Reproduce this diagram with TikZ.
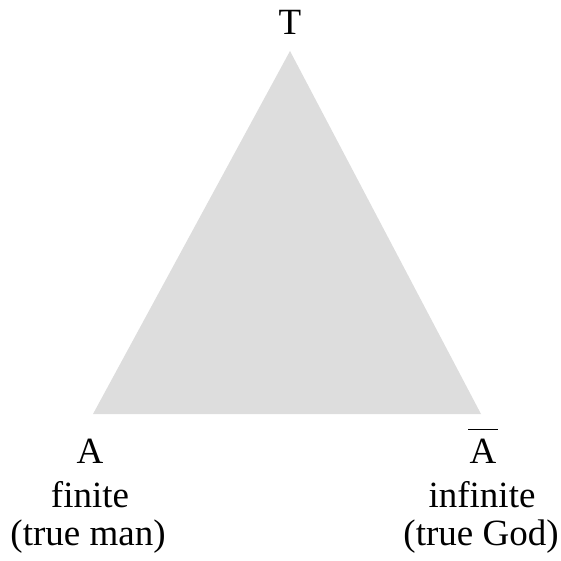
\documentclass[tikz,border=0pt]{standalone}
\usepackage{fontspec}
\setmainfont{Liberation Serif}
\usetikzlibrary{positioning}
\definecolor{facegray}{RGB}{221,221,221}

\begin{document}
\begin{tikzpicture}[
    x=1pt, y=-1pt,
    vlabel/.style={font=\fontsize{37}{42}\selectfont, inner sep=0pt, anchor=base},
    face/.style={fill=facegray, draw=none}
]
\useasboundingbox (0,0) rectangle (561,561);

% --- VERTICES ---
\coordinate (top) at (290,51);
\coordinate (left) at (93,414);
\coordinate (right) at (481,414);

% --- TRIANGLE ---
\fill [face] (top) -- (left) -- (right) -- cycle;

% --- LABELS ---
\node (t) [vlabel] at (290,35) {T};

\node (a) [vlabel] at (90,463) {A};
\node (fin) [vlabel] at (90,507) {finite};
\node (man) [vlabel] at (88,545) {(true man)};

\node (abar) [vlabel] at (483,463) {$\overline{\kern1.5pt\raisebox{0pt}[32pt]{A}\kern1.5pt}$};
\node (infin) [vlabel] at (482,507) {infinite};
\node (god) [vlabel] at (481,545) {(true God)};

\end{tikzpicture}
\end{document}
